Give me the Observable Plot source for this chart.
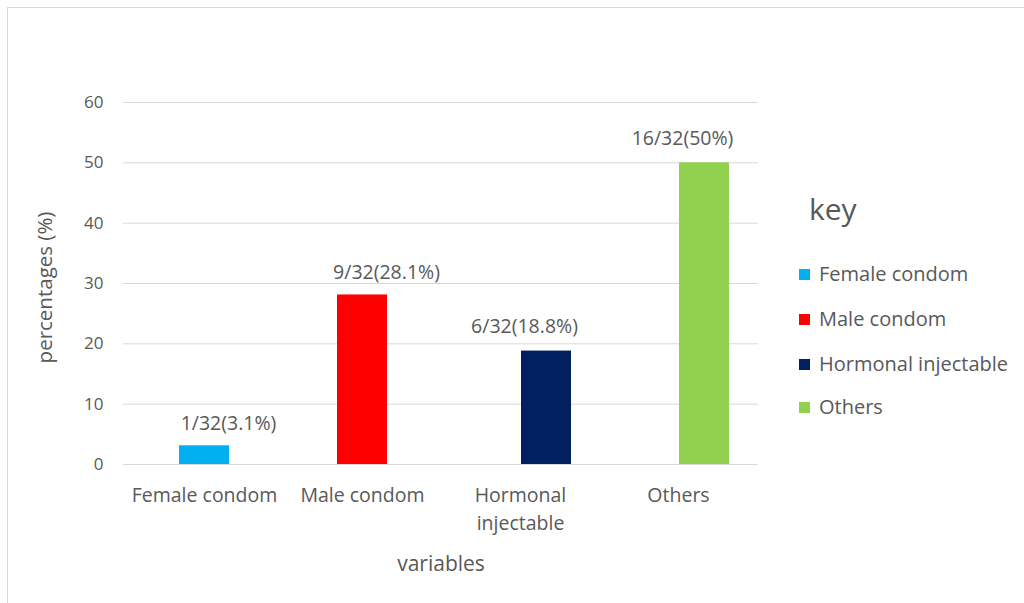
<!DOCTYPE html>
<html>
<head>
<meta charset="utf-8">
<script src="https://cdn.jsdelivr.net/npm/d3@7"></script>
<script src="https://cdn.jsdelivr.net/npm/@observablehq/plot@0.6"></script>
<style>
  html, body { margin: 0; padding: 0; background: #fff; }
  body { width: 1024px; height: 603px; overflow: hidden; position: relative; font-family: "Open Sans", sans-serif; color: #595959; }
  #frame { position: absolute; left: 7px; top: 7px; width: 1030px; height: 610px; border: 1px solid #d9d9d9; box-sizing: border-box; }
  #chart { position: absolute; left: 0; top: 0; }
  #legend { position: absolute; left: 799px; top: 0; }
  #legend .key { position: absolute; left: 10px; top: 191px; font-size: 30px; white-space: nowrap; line-height: 1.2; }
  #legend .item { position: absolute; left: 0; display: flex; align-items: center; white-space: nowrap; font-size: 20px; line-height: 24px; }
  #legend .sw { width: 11px; height: 11px; margin-right: 9px; }
</style>
</head>
<body>
<div id="frame"></div>
<div id="chart"></div>
<div id="legend"></div>
<script>
// Contraceptive method used, share of 32 respondents
const categories = ["Female condom", "Male condom", "Hormonal injectable", "Others"];
const tickLabels = ["Female condom", "Male condom", "Hormonal\ninjectable", "Others"];
const counts = [1, 9, 6, 16];
const total = 32;
const percents = [3.1, 28.1, 18.8, 50];
const colors = ["#00b0f0", "#ff0000", "#002060", "#92d050"];
const yTicks = [0, 10, 20, 30, 40, 50, 60];
const xTitle = "variables";
const yTitle = "percentages (%)";

const data = categories.map((c, i) => ({
  method: c,
  pct: percents[i],
  label: `${counts[i]}/${total}(${percents[i]}%)`,
  group: i < 2 ? "a" : "b"
}));
const groupA = data.filter(d => d.group === "a");
const groupB = data.filter(d => d.group === "b");

const plot = Plot.plot({
  width: 800,
  height: 603,
  marginLeft: 123,
  marginRight: 42,
  marginTop: 102,
  marginBottom: 139,
  style: { fontFamily: "Open Sans, sans-serif", color: "#595959", background: "transparent" },
  x: { domain: categories, paddingInner: 0.685, paddingOuter: 0.3425 },
  y: { domain: [0, 60] },
  color: { domain: categories, range: colors },
  marks: [
    Plot.gridY(yTicks, { stroke: "#d9d9d9", strokeOpacity: 1, strokeWidth: 1 }),
    Plot.axisY(yTicks, { tickSize: 0, tickPadding: 20, fontSize: 17, fill: "#595959", label: null }),
    Plot.axisX({
      tickSize: 0, tickPadding: 17, fontSize: 19.5, lineHeight: 1.45, fill: "#595959",
      tickFormat: d => tickLabels[categories.indexOf(d)],
      label: null
    }),
    // axis titles
    Plot.text([yTitle], { frameAnchor: "left", textAnchor: "middle", lineAnchor: "middle", text: d => d, rotate: -90, dx: -78, dy: 4, fontSize: 20.5, fill: "#595959" }),
    Plot.text([xTitle], { frameAnchor: "bottom", text: d => d, dy: 106, fontSize: 21, fill: "#595959" }),
    Plot.barY(groupA, { x: "method", y: "pct", fill: "method" }),
    Plot.barY(groupB, { x: "method", y: "pct", fill: "method", dx: 26 }),
    Plot.text(groupA, { x: "method", y: "pct", text: "label", dy: -22, dx: 24, fontSize: 19.5, fill: "#595959" }),
    Plot.text(groupB, { x: "method", y: "pct", text: "label", dy: -24, dx: 4, fontSize: 19.5, fill: "#595959" })
  ]
});
document.getElementById("chart").appendChild(plot);

// Legend
const legend = document.getElementById("legend");
const key = document.createElement("div");
key.className = "key";
key.textContent = "key";
legend.appendChild(key);
const rowTops = [262, 307, 352, 395];
categories.forEach((c, i) => {
  const item = document.createElement("div");
  item.className = "item";
  item.style.top = rowTops[i] + "px";
  const sw = document.createElement("div");
  sw.className = "sw";
  sw.style.background = colors[i];
  const t = document.createElement("span");
  t.textContent = c;
  item.appendChild(sw);
  item.appendChild(t);
  legend.appendChild(item);
});
</script>
</body>
</html>
